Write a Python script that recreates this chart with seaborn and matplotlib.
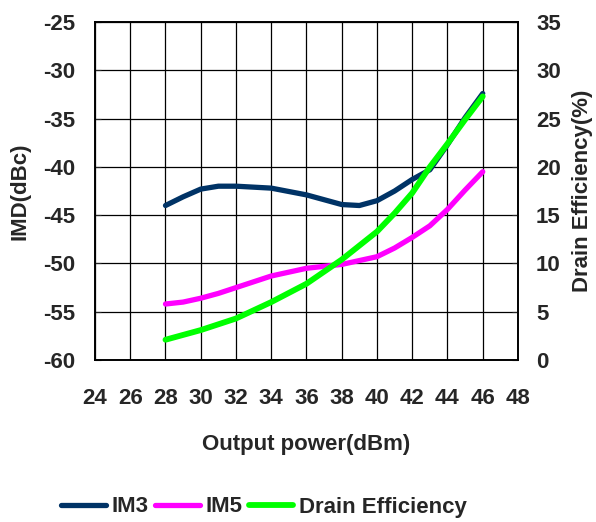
import numpy as np
import pandas as pd
import matplotlib
matplotlib.use('Agg')
import matplotlib.pyplot as plt
import seaborn as sns

# Style
sns.set_style('white')
plt.rcParams['font.family'] = ['Liberation Sans', 'DejaVu Sans']
plt.rcParams['font.weight'] = 'bold'
plt.rcParams['axes.unicode_minus'] = False

# Data
pout = [28, 29, 30, 31, 32, 34, 36, 38, 39, 40, 41, 42, 43, 44, 45, 46]
im3 = [-44.0, -43.1, -42.3, -42.0, -42.0, -42.2, -42.9, -43.9, -44.0, -43.5, -42.5, -41.3, -40.3, -37.7, -34.9, -32.4]
im5 = [-54.2, -54.0, -53.6, -53.1, -52.5, -51.3, -50.5, -50.1, -49.7, -49.3, -48.4, -47.3, -46.1, -44.4, -42.4, -40.5]
de_pout = [28, 30, 32, 34, 36, 38, 40, 41, 42, 43, 44, 45, 46]
drain_eff = [2.1, 3.1, 4.3, 6.0, 7.9, 10.4, 13.3, 15.2, 17.3, 20.0, 22.4, 24.9, 27.3]

x_ticks = list(range(24, 50, 2))
imd_ticks = list(range(-60, -20, 5))
eff_ticks = list(range(0, 40, 5))

df_imd = pd.DataFrame({'Pout': pout, 'IM3': im3, 'IM5': im5})
df_de = pd.DataFrame({'Pout': de_pout, 'DE': drain_eff})

fig = plt.figure(figsize=(5.96, 5.22), dpi=100)
ax = fig.add_axes([0.1594, 0.3103, 0.7097, 0.6475])
ax2 = ax.twinx()

c_im3 = '#003366'
c_im5 = '#ff00ff'
c_de = '#00ff00'

sns.lineplot(data=df_imd, x='Pout', y='IM3', ax=ax, color=c_im3, lw=3.8, label='IM3', legend=False)
sns.lineplot(data=df_imd, x='Pout', y='IM5', ax=ax, color=c_im5, lw=3.8, label='IM5', legend=False)
sns.lineplot(data=df_de, x='Pout', y='DE', ax=ax2, color=c_de, lw=4.2, label='Drain Efficiency', legend=False)

ax.set_xlim(24, 48)
ax.set_ylim(-60, -25)
ax2.set_ylim(0, 35)
ax.set_xticks(x_ticks)
ax.set_yticks(imd_ticks)
ax2.set_yticks(eff_ticks)

ax.grid(True, color='black', lw=0.9)
ax.set_axisbelow(True)
for sp in list(ax.spines.values()) + list(ax2.spines.values()):
    sp.set_color('black')
    sp.set_linewidth(1.2)

fs = 16
ax.tick_params(axis='x', labelsize=fs, length=0, pad=20)
ax.tick_params(axis='y', labelsize=fs, direction='in', length=4, pad=14)
ax2.tick_params(axis='y', labelsize=fs, direction='in', length=4, pad=13)
for lab in ax.get_xticklabels() + ax.get_yticklabels() + ax2.get_yticklabels():
    lab.set_fontweight('bold')

ax.set_xlabel('Output power(dBm)', fontsize=fs, fontweight='bold', labelpad=18)
ax.set_ylabel('IMD(dBc)', fontsize=fs, fontweight='bold', labelpad=9)
ax2.set_ylabel('Drain Efficiency(%)', fontsize=fs, fontweight='bold', labelpad=8)

handles = ax.get_lines()[:2] + ax2.get_lines()[:1]
fig.legend(handles, ['IM3', 'IM5', 'Drain Efficiency'], loc='center',
           bbox_to_anchor=(264 / 596, 1 - 507 / 522), ncol=3, frameon=False,
           prop={'size': fs, 'weight': 'bold'}, handlelength=2.0,
           handletextpad=0.25, columnspacing=0.3)

fig.savefig('out.png', dpi=100)
